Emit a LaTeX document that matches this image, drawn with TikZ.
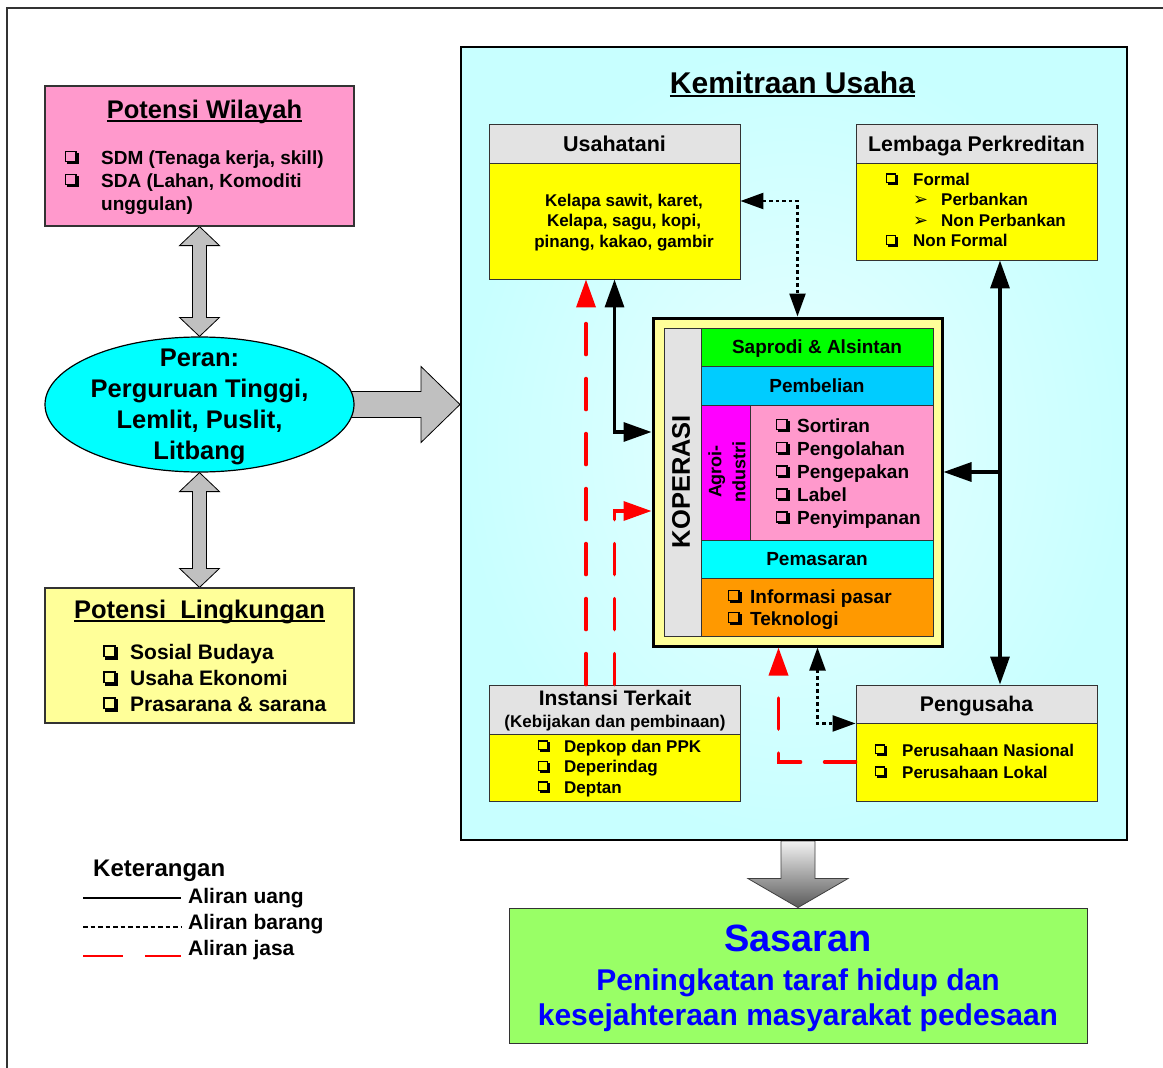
\documentclass[tikz,border=0pt]{standalone}
\usepackage{fontspec}
\usepackage{graphicx}
\setmainfont{Liberation Sans}
\newfontfamily\djv{DejaVu Sans}
\usetikzlibrary{arrows.meta,calc,fit,shapes.geometric,backgrounds}

\definecolor{pinkbox}{HTML}{FF99CC}
\definecolor{paleyellow}{HTML}{FFFF99}
\definecolor{aqua}{HTML}{00FFFF}
\definecolor{blockgray}{HTML}{C0C0C0}
\definecolor{kemout}{HTML}{C8FFFF}
\definecolor{kemin}{HTML}{E8FFFF}
\definecolor{hdrgray}{HTML}{E3E3E3}
\definecolor{brightyellow}{HTML}{FFFF00}
\definecolor{leafgreen}{HTML}{00FF00}
\definecolor{skyblue}{HTML}{00CCFF}
\definecolor{magentabox}{HTML}{FF00FF}
\definecolor{orangebox}{HTML}{FF9900}
\definecolor{goalgreen}{HTML}{99FF66}
\definecolor{goalblue}{HTML}{0000FF}
\definecolor{jasared}{HTML}{FF0000}
\definecolor{arrowtop}{HTML}{F2F2F2}
\definecolor{arrowbot}{HTML}{5A5A5A}

% font size helper
\newcommand\fsz[2]{\fontsize{#1}{#2}\selectfont}
% shadowed check box drawn with rules, sized on the current font
\newcommand\cbglyph{{\setlength{\unitlength}{0.01em}\begin{picture}(72,68)
  \put(0,10){\rule{0.065em}{0.58em}}
  \put(53.5,10){\rule{0.065em}{0.58em}}
  \put(0,61.5){\rule{0.6em}{0.065em}}
  \put(0,10){\rule{0.6em}{0.065em}}
  \put(10,0){\rule{0.62em}{0.12em}}
  \put(60,0){\rule{0.12em}{0.58em}}
\end{picture}}}
\newcommand\cb[1]{\makebox[#1][l]{\cbglyph}}
\newcommand\subarr[1]{\makebox[#1][l]{{\djv\scalebox{1.05}{➢}}}}
\newcommand\undl[1]{\setbox0\hbox{#1}\rlap{\rule[-4pt]{\wd0}{2pt}}\box0}

\begin{document}
\begin{tikzpicture}[x=1pt,y=-1pt,font=\bfseries,
  cell/.style={draw=black!80, line width=0.9pt, inner sep=0pt},
  hdr/.style={cell, fill=hdrgray},
  txt/.style={inner sep=0pt},
  ctxt/.style={inner sep=0pt, text depth=0pt},
  money/.style={draw=black, line width=3.3pt, >={Triangle[length=28pt,width=19pt]}},
  goods/.style={draw=black, line width=2.4pt, dash pattern=on 3.5pt off 3pt, >={Triangle[length=23pt,width=16pt]}},
  service/.style={draw=jasared, line width=3.5pt, line cap=round, dash pattern=on 31pt off 24pt, >={Triangle[length=28pt,width=19pt]}},
  block/.style={fill=blockgray, draw=black, line width=0.8pt, line join=miter}
]
\useasboundingbox (0,0) rectangle (1163,1068);
\begin{scope}[on background layer]
  \fill[white] (0,0) rectangle (1163,1068);
\end{scope}
% page frame
\draw[black!80, line width=1.3pt] (7,1068) -- (7,8) -- (1163,8);

% ---------- left column ----------
\node[fit={(45,86) (354,226)}, cell, fill=pinkbox, line width=1.2pt] (wil) {};
\node[txt, anchor=base, font=\bfseries\fsz{25.5}{30}] (wilT) at (204.5,118) {\undl{Potensi Wilayah}};
\foreach \t [count=\i from 0] in {{\cb{36pt}SDM (Tenaga kerja, skill)}, {\cb{36pt}SDA (Lahan, Komoditi}, {\hspace*{36pt}unggulan)}}
  \node[txt, anchor=base west, font=\bfseries\fsz{19}{23}] (wil-\i) at (65,{164+23*\i}) {\t};

\node[ellipse, draw=black, line width=1.2pt, fill=aqua, minimum width=309pt, minimum height=135pt, inner sep=0pt] (ell) at (199.5,404.5) {};
\foreach \t [count=\i from 0] in {Peran:, {Perguruan Tinggi,}, {Lemlit, Puslit,}, Litbang}
  \node[txt, anchor=base, font=\bfseries\fsz{25.5}{31}] (ell-\i) at (199.5,{366+31*\i}) {\t};

\node[fit={(45,588) (354,723)}, cell, fill=paleyellow, line width=1.2pt] (lin) {};
\node[txt, anchor=base, font=\bfseries\fsz{25.5}{30}] (linT) at (199.5,618) {\undl{Potensi\ \ Lingkungan}};
\foreach \t [count=\i from 0] in {Sosial Budaya, Usaha Ekonomi, Prasarana \& sarana}
  \node[txt, anchor=base west, font=\bfseries\fsz{21}{26}] (lin-\i) at (103,{659.5+26*\i}) {\cb{27pt}\t};

% ---------- partnership frame ----------
\node[fit={(461,47) (1127,840)}, draw=black, line width=2pt, inner sep=0pt, inner color=kemin, outer color=kemout] (kem) {};
\node[txt, anchor=base, font=\bfseries\fsz{30}{36}] (kemT) at (792.5,93) {\undl{Kemitraan Usaha}};

% farming
\node[fit={(489,124) (740,163)}, hdr] (usaH) {};
\node[ctxt, font=\bfseries\fsz{21.5}{25}] (usaHT) at (usaH.center) {Usahatani};
\node[fit={(489,163) (740,279)}, cell, fill=brightyellow] (usaB) {};
\foreach \t [count=\i from 0] in {{Kelapa sawit, karet,}, {Kelapa, sagu, kopi,}, {pinang, kakao, gambir}}
  \node[txt, anchor=base, font=\bfseries\fsz{17}{20}] (usa-\i) at (624,{206+20.5*\i}) {\t};

% credit institutions
\node[fit={(856,124) (1097,163)}, hdr] (lemH) {};
\node[ctxt, font=\bfseries\fsz{21.3}{25}] (lemHT) at (lemH.center) {Lembaga Perkreditan};
\node[fit={(856,163) (1097,260)}, cell, fill=brightyellow] (lemB) {};
\foreach \t [count=\i from 0] in {{\cb{27pt}Formal}, {\hspace*{27pt}\subarr{28pt}Perbankan}, {\hspace*{27pt}\subarr{28pt}Non Perbankan}, {\cb{27pt}Non Formal}}
  \node[txt, anchor=base west, font=\bfseries\fsz{17}{20}] (lem-\i) at (886,{185+20.5*\i}) {\t};

% cooperative
\node[fit={(653,318) (942,646)}, draw=black, line width=3pt, fill=paleyellow, inner sep=0pt] (kop) {};
\node[fit={(664,328) (701,636)}, cell, fill=hdrgray] (kopL) {};
\node[ctxt, rotate=90, font=\bfseries\fsz{25.5}{30}] (kopT) at (681,481.5) {KOPERASI};
\node[fit={(701,328) (933,366)}, cell, fill=leafgreen] (sap) {};
\node[ctxt, font=\bfseries\fsz{19}{22}] (sapT) at (sap.center) {Saprodi \& Alsintan};
\node[fit={(701,366) (933,405)}, cell, fill=skyblue] (pemb) {};
\node[ctxt, font=\bfseries\fsz{19}{22}] (pembT) at (pemb.center) {Pembelian};
\node[fit={(701,405) (750,540)}, cell, fill=magentabox] (agro) {};
\node[txt, rotate=90, align=center, font=\bfseries\fsz{18}{24}] (agroT) at (727,471.5) {Agroi-\\ndustri};
\node[fit={(750,405) (933,540)}, cell, fill=pinkbox] (proc) {};
\foreach \t [count=\i from 0] in {Sortiran, Pengolahan, Pengepakan, Label, Penyimpanan}
  \node[txt, anchor=base west, font=\bfseries\fsz{19}{23}] (proc-\i) at (776,{432+23.1*\i}) {\cb{21pt}\t};
\node[fit={(701,540) (933,578)}, cell, fill=aqua] (pems) {};
\node[ctxt, font=\bfseries\fsz{19}{22}] (pemsT) at (pems.center) {Pemasaran};
\node[fit={(701,578) (933,636)}, cell, fill=orangebox] (info) {};
\foreach \t [count=\i from 0] in {Informasi pasar, Teknologi}
  \node[txt, anchor=base west, font=\bfseries\fsz{19}{22}] (info-\i) at (728,{603+22*\i}) {\cb{22pt}\t};

% related agencies
\node[fit={(489,685) (740,734)}, hdr] (insH) {};
\node[txt, anchor=base, font=\bfseries\fsz{21}{25}] (insT) at (615,705.5) {Instansi Terkait};
\node[txt, anchor=base, font=\bfseries\fsz{17}{20}] (insS) at (615,727) {(Kebijakan dan pembinaan)};
\node[fit={(489,734) (740,801)}, cell, fill=brightyellow] (insB) {};
\foreach \t [count=\i from 0] in {Depkop dan PPK, Deperindag, Deptan}
  \node[txt, anchor=base west, font=\bfseries\fsz{17}{20}] (ins-\i) at (538,{752+20.5*\i}) {\cb{26pt}\t};

% entrepreneurs
\node[fit={(856,685) (1097,723)}, hdr] (pngH) {};
\node[ctxt, font=\bfseries\fsz{21.2}{25}] (pngHT) at (pngH.center) {Pengusaha};
\node[fit={(856,723) (1097,801)}, cell, fill=brightyellow] (pngB) {};
\foreach \t [count=\i from 0] in {Perusahaan Nasional, Perusahaan Lokal}
  \node[txt, anchor=base west, font=\bfseries\fsz{17}{20}] (png-\i) at (875,{756+22*\i}) {\cb{27pt}\t};

% goal
\node[fit={(509,908) (1087,1043)}, cell, fill=goalgreen] (sas) {};
\node[txt, anchor=base, text=goalblue, font=\bfseries\fsz{38}{44}] (sasT) at (798,951.5) {Sasaran};
\node[txt, anchor=base, text=goalblue, font=\bfseries\fsz{30}{35}] (sas1) at (798,990.8) {Peningkatan taraf hidup dan};
\node[txt, anchor=base, text=goalblue, font=\bfseries\fsz{30}{35}] (sas2) at (798,1025.8) {kesejahteraan masyarakat pedesaan};

% ---------- flows ----------
\coordinate (kopR) at ([yshift=10pt]kop.east);
\coordinate (vtop) at ([xshift=23.5pt]lemB.south);
\draw[goods,<->] ([yshift=20pt]usaB.east) -| (kop.north);
\draw[money,<->] (usaB.south) |- ([yshift=50pt]kop.west);
\draw[service,->] ([xshift=-28.5pt]insH.north) -- ([xshift=-28.5pt]usaB.south);
\draw[service,->] (insH.north) |- ([yshift=-29pt]kop.west);
\draw[money,<->] (vtop) -- ([xshift=23.5pt]pngH.north);
\draw[money,->] (vtop |- kopR) -- (kopR);
\draw[goods,<->] ([xshift=20pt]kop.south) |- (pngH.south west);
\draw[service,->] (pngB.west) -| ([xshift=-19pt]kop.south);

% ---------- block arrows ----------
\begin{scope}[on background layer]
  \filldraw[block] (wil.south) -- ++(20,19) -- ++(-13,0) -- ($(ell.north)+(7,-19)$) -- ++(13,0)
    -- (ell.north) -- ++(-20,-19) -- ++(13,0) -- ($(wil.south)+(-7,19)$) -- ++(-13,0) -- cycle;
  \filldraw[block] (ell.south) -- ++(20,19) -- ++(-13,0) -- ($(lin.north)+(7,-19)$) -- ++(13,0)
    -- (lin.north) -- ++(-20,-19) -- ++(13,0) -- ($(ell.south)+(-7,19)$) -- ++(-13,0) -- cycle;
  \coordinate (hS) at ([xshift=-6pt]ell.east);
  \coordinate (hE) at (kem.west |- ell.east);
  \filldraw[block] ($(hS)+(0,-13)$) -- ($(hE)+(-39,-13)$) -- ($(hE)+(-39,-38)$) -- (hE)
    -- ($(hE)+(-39,38)$) -- ($(hE)+(-39,13)$) -- ($(hS)+(0,13)$) -- cycle;
  \coordinate (vS) at (sas.north |- kem.south);
  \shadedraw[top color=arrowtop, bottom color=arrowbot, draw=black!75, line width=0.8pt]
    ($(vS)+(-17,0)$) -- ($(sas.north)+(-17,-29)$) -- ($(sas.north)+(-50,-29)$) -- (sas.north)
    -- ($(sas.north)+(50,-29)$) -- ($(sas.north)+(17,-29)$) -- ($(vS)+(17,0)$) -- cycle;
\end{scope}

% ---------- legend ----------
\node[txt, anchor=base west, font=\bfseries\fsz{24}{28}] (legT) at (93,876.6) {Keterangan};
\draw[black, line width=2.8pt] (83,898) -- (181,898);
\draw[black, line width=2.6pt, dash pattern=on 4.5pt off 3pt] (83,927) -- (181,927);
\draw[jasared, line width=2.8pt] (83,956) -- (123,956) (145,956) -- (181,956);
\node[txt, anchor=base west, font=\bfseries\fsz{21}{25}] (leg-0) at (188,903.5) {Aliran uang};
\node[txt, anchor=base west, font=\bfseries\fsz{21}{25}] (leg-1) at (188,929.5) {Aliran barang};
\node[txt, anchor=base west, font=\bfseries\fsz{21}{25}] (leg-2) at (188,955.5) {Aliran jasa};
\end{tikzpicture}
\end{document}
